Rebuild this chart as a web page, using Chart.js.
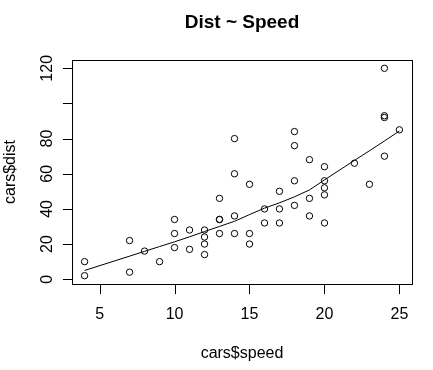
<!DOCTYPE html>
<html>
<head>
<meta charset="utf-8">
<script src="https://cdn.jsdelivr.net/npm/chart.js@4/dist/chart.umd.min.js"></script>
<style>
  html, body { margin: 0; padding: 0; background: #fff; }
  canvas { display: block; }
</style>
</head>
<body>
<canvas id="grafica" width="433" height="370"></canvas>
<script>
// cars data (speed, dist)
var speed = [4, 4, 7, 7, 8, 9, 10, 10, 10, 11, 11, 12, 12, 12, 12, 13, 13, 13, 13, 14, 14, 14, 14, 15, 15, 15, 16, 16, 17, 17, 17, 18, 18, 18, 18, 19, 19, 19, 20, 20, 20, 20, 20, 22, 23, 24, 24, 24, 24, 25];
var dist = [2, 10, 4, 22, 16, 10, 18, 26, 34, 17, 28, 14, 20, 24, 28, 26, 34, 34, 46, 26, 36, 60, 80, 20, 26, 54, 32, 40, 32, 40, 50, 42, 56, 76, 84, 36, 46, 68, 32, 48, 52, 56, 64, 66, 54, 70, 92, 93, 120, 85];

// smooth line
var lineaX = [4, 7, 8, 9, 10, 11, 12, 13, 14, 15, 16, 17, 18, 19, 20, 22, 23, 24, 25];
var lineaY = [4.97, 13.12, 15.86, 18.58, 21.28, 24.13, 27.12, 30.03, 32.96, 36.76, 40.44, 43.46, 46.89, 50.79, 56.49, 67.59, 73.08, 78.64, 84.33];

var ticksX = [5, 10, 15, 20, 25];
var ticksY = [0, 20, 40, 60, 80, 100, 120];
var etiquetasY = ['0', '20', '40', '60', '80', '', '120'];

var titulo = 'Dist ~ Speed';
var tituloX = 'cars$speed';
var tituloY = 'cars$dist';

var puntos = [];
for (var i = 0; i < speed.length; i++) {
    puntos.push({ x: speed[i], y: dist[i] });
}
var linea = [];
for (var j = 0; j < lineaX.length; j++) {
    linea.push({ x: lineaX[j], y: lineaY[j] });
}

var fuente = '"Liberation Sans", Arial, sans-serif';

// draws the R style box, axes and titles
var EjesR = {
    id: 'ejesR',
    afterDraw: function (chart) {
        var ctx = chart.ctx;
        var a = chart.chartArea;
        var sx = chart.scales.x;
        var sy = chart.scales.y;
        ctx.save();
        ctx.strokeStyle = '#000';
        ctx.fillStyle = '#000';
        ctx.lineWidth = 1;
        ctx.strokeRect(Math.round(a.left) + 0.5, Math.round(a.top) + 0.5,
            Math.round(a.right - a.left), Math.round(a.bottom - a.top));

        // x axis
        var yEje = Math.round(a.bottom) + 0.5;
        var x0 = Math.round(sx.getPixelForValue(ticksX[0])) + 0.5;
        var x1 = Math.round(sx.getPixelForValue(ticksX[ticksX.length - 1])) + 0.5;
        ctx.beginPath();
        ctx.moveTo(x0, yEje);
        ctx.lineTo(x1, yEje);
        ctx.font = '16px ' + fuente;
        ctx.textAlign = 'center';
        ctx.textBaseline = 'alphabetic';
        ticksX.forEach(function (v) {
            var px = Math.round(sx.getPixelForValue(v)) + 0.5;
            ctx.moveTo(px, yEje);
            ctx.lineTo(px, yEje + 9.6);
        });
        ctx.stroke();
        ticksX.forEach(function (v) {
            ctx.fillText(String(v), sx.getPixelForValue(v), 319);
        });
        ctx.fillText(tituloX, (a.left + a.right) / 2, 358);

        // y axis
        var xEje = Math.round(a.left) + 0.5;
        var y0 = Math.round(sy.getPixelForValue(ticksY[0])) + 0.5;
        var y1 = Math.round(sy.getPixelForValue(ticksY[ticksY.length - 1])) + 0.5;
        ctx.beginPath();
        ctx.moveTo(xEje, y0);
        ctx.lineTo(xEje, y1);
        ticksY.forEach(function (v) {
            var py = Math.round(sy.getPixelForValue(v)) + 0.5;
            ctx.moveTo(xEje, py);
            ctx.lineTo(xEje - 9.6, py);
        });
        ctx.stroke();
        ticksY.forEach(function (v, k) {
            ctx.save();
            ctx.translate(52, sy.getPixelForValue(v));
            ctx.rotate(-Math.PI / 2);
            ctx.fillText(etiquetasY[k], 0, 0);
            ctx.restore();
        });
        ctx.save();
        ctx.translate(15, (a.top + a.bottom) / 2);
        ctx.rotate(-Math.PI / 2);
        ctx.fillText(tituloY, 0, 0);
        ctx.restore();

        // title
        ctx.font = 'bold 19px ' + fuente;
        ctx.fillText(titulo, (a.left + a.right) / 2, 28);
        ctx.restore();
    }
};

var lienzo = document.getElementById('grafica').getContext('2d');
var grafica = new Chart(lienzo, {
    type: 'scatter',
    data: {
        datasets: [
            {
                label: 'lowess',
                type: 'line',
                data: linea,
                borderColor: '#000',
                borderWidth: 1,
                pointRadius: 0,
                fill: false,
                tension: 0
            },
            {
                label: 'cars',
                data: puntos,
                backgroundColor: 'rgba(0,0,0,0)',
                borderColor: '#000',
                borderWidth: 1,
                pointRadius: 3.2
            }
        ]
    },
    options: {
        responsive: false,
        animation: false,
        layout: { padding: { left: 72, right: 21, top: 60, bottom: 86 } },
        plugins: {
            legend: { display: false },
            tooltip: { enabled: false },
            title: { display: false }
        },
        scales: {
            x: { type: 'linear', min: 3.16, max: 25.84, display: false },
            y: { type: 'linear', min: -2.72, max: 124.72, display: false }
        }
    },
    plugins: [EjesR]
});
</script>
</body>
</html>
